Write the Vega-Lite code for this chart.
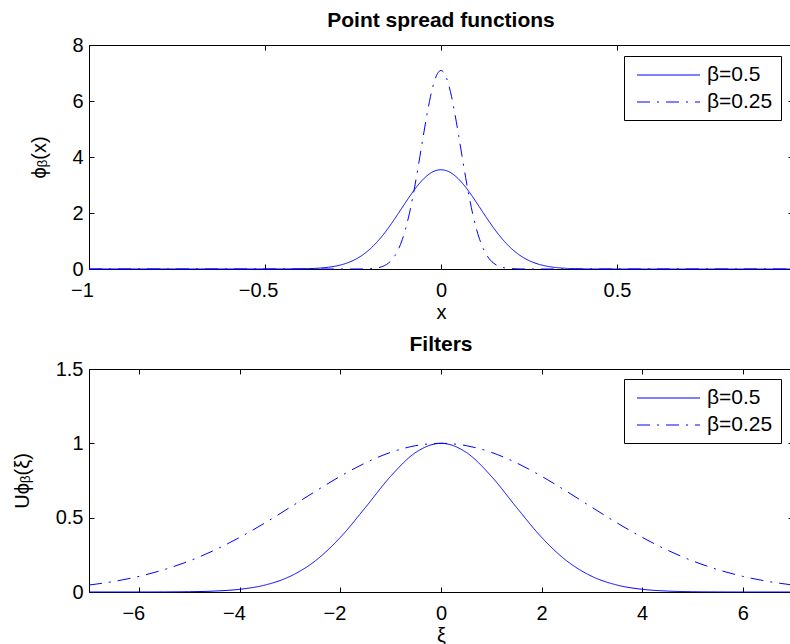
{
  "$schema": "https://vega.github.io/schema/vega-lite/v6.json",
  "autosize": {"type": "pad"},
  "padding": {"left": 11, "top": 9, "right": 0, "bottom": 0},
  "background": "white",
  "config": {
    "font": "Liberation Sans",
    "view": {"stroke": "black", "strokeWidth": 1},
    "axis": {
      "domain": false, "grid": false, "tickColor": "black", "tickSize": -5, "tickWidth": 1,
      "labelFont": "Liberation Sans", "labelFontSize": 20, "labelColor": "black", "labelFlush": false,
      "titleFont": "Liberation Sans", "titleFontSize": 20, "titleFontWeight": "normal", "titleColor": "black"
    },
    "axisBottom": {"labelPadding": 16, "titlePadding": 2},
    "axisLeft": {"labelPadding": 11, "titlePadding": 0},
    "title": {"font": "Liberation Sans", "fontSize": 21, "fontWeight": "bold", "color": "black", "offset": 4},
    "legend": {
      "orient": "none", "title": null, "symbolType": "M-3,0H3", "symbolSize": 441, "symbolStrokeWidth": 1,
      "symbolOffset": 25.5, "labelOffset": 27.5,
      "symbolStrokeColor": "#0000ff", "labelFont": "Liberation Sans", "labelFontSize": 21, "labelColor": "black",
      "strokeColor": "black", "fillColor": "white", "padding": 8, "rowPadding": 6
    }
  },
  "spacing": 100,
  "bounds": "flush",
  "resolve": {"scale": {"x": "independent", "y": "independent", "strokeDash": "independent"}, "legend": {"strokeDash": "independent"}},
  "vconcat": [
    {
      "width": 704, "height": 224,
      "title": {"text": "Point spread functions"},
      "data": {"values": [
        {"x": -1, "y": 0, "b": "β=0.5"}, {"x": -0.5, "y": 0, "b": "β=0.5"}, {"x": -0.45, "y": 0.001, "b": "β=0.5"},
        {"x": -0.40, "y": 0.006, "b": "β=0.5"}, {"x": -0.38, "y": 0.012, "b": "β=0.5"}, {"x": -0.36, "y": 0.021, "b": "β=0.5"},
        {"x": -0.34, "y": 0.037, "b": "β=0.5"}, {"x": -0.32, "y": 0.062, "b": "β=0.5"}, {"x": -0.30, "y": 0.102, "b": "β=0.5"},
        {"x": -0.28, "y": 0.161, "b": "β=0.5"}, {"x": -0.26, "y": 0.246, "b": "β=0.5"}, {"x": -0.24, "y": 0.365, "b": "β=0.5"},
        {"x": -0.22, "y": 0.525, "b": "β=0.5"}, {"x": -0.20, "y": 0.731, "b": "β=0.5"}, {"x": -0.18, "y": 0.987, "b": "β=0.5"},
        {"x": -0.16, "y": 1.290, "b": "β=0.5"}, {"x": -0.14, "y": 1.635, "b": "β=0.5"}, {"x": -0.12, "y": 2.008, "b": "β=0.5"},
        {"x": -0.10, "y": 2.389, "b": "β=0.5"}, {"x": -0.08, "y": 2.754, "b": "β=0.5"}, {"x": -0.06, "y": 3.075, "b": "β=0.5"},
        {"x": -0.04, "y": 3.328, "b": "β=0.5"}, {"x": -0.02, "y": 3.489, "b": "β=0.5"}, {"x": 0, "y": 3.545, "b": "β=0.5"},
        {"x": 0.02, "y": 3.489, "b": "β=0.5"}, {"x": 0.04, "y": 3.328, "b": "β=0.5"}, {"x": 0.06, "y": 3.075, "b": "β=0.5"},
        {"x": 0.08, "y": 2.754, "b": "β=0.5"}, {"x": 0.10, "y": 2.389, "b": "β=0.5"}, {"x": 0.12, "y": 2.008, "b": "β=0.5"},
        {"x": 0.14, "y": 1.635, "b": "β=0.5"}, {"x": 0.16, "y": 1.290, "b": "β=0.5"}, {"x": 0.18, "y": 0.987, "b": "β=0.5"},
        {"x": 0.20, "y": 0.731, "b": "β=0.5"}, {"x": 0.22, "y": 0.525, "b": "β=0.5"}, {"x": 0.24, "y": 0.365, "b": "β=0.5"},
        {"x": 0.26, "y": 0.246, "b": "β=0.5"}, {"x": 0.28, "y": 0.161, "b": "β=0.5"}, {"x": 0.30, "y": 0.102, "b": "β=0.5"},
        {"x": 0.32, "y": 0.062, "b": "β=0.5"}, {"x": 0.34, "y": 0.037, "b": "β=0.5"}, {"x": 0.36, "y": 0.021, "b": "β=0.5"},
        {"x": 0.38, "y": 0.012, "b": "β=0.5"}, {"x": 0.40, "y": 0.006, "b": "β=0.5"}, {"x": 0.45, "y": 0.001, "b": "β=0.5"},
        {"x": 0.5, "y": 0, "b": "β=0.5"}, {"x": 1, "y": 0, "b": "β=0.5"},
        {"x": -1, "y": 0, "b": "β=0.25"}, {"x": -0.25, "y": 0, "b": "β=0.25"}, {"x": -0.225, "y": 0.002, "b": "β=0.25"},
        {"x": -0.20, "y": 0.013, "b": "β=0.25"}, {"x": -0.19, "y": 0.024, "b": "β=0.25"}, {"x": -0.18, "y": 0.043, "b": "β=0.25"},
        {"x": -0.17, "y": 0.074, "b": "β=0.25"}, {"x": -0.16, "y": 0.124, "b": "β=0.25"}, {"x": -0.15, "y": 0.203, "b": "β=0.25"},
        {"x": -0.14, "y": 0.321, "b": "β=0.25"}, {"x": -0.13, "y": 0.492, "b": "β=0.25"}, {"x": -0.12, "y": 0.730, "b": "β=0.25"},
        {"x": -0.11, "y": 1.049, "b": "β=0.25"}, {"x": -0.10, "y": 1.462, "b": "β=0.25"}, {"x": -0.09, "y": 1.973, "b": "β=0.25"},
        {"x": -0.08, "y": 2.581, "b": "β=0.25"}, {"x": -0.07, "y": 3.270, "b": "β=0.25"}, {"x": -0.06, "y": 4.015, "b": "β=0.25"},
        {"x": -0.05, "y": 4.777, "b": "β=0.25"}, {"x": -0.04, "y": 5.507, "b": "β=0.25"}, {"x": -0.03, "y": 6.151, "b": "β=0.25"},
        {"x": -0.02, "y": 6.656, "b": "β=0.25"}, {"x": -0.01, "y": 6.979, "b": "β=0.25"}, {"x": 0, "y": 7.090, "b": "β=0.25"},
        {"x": 0.01, "y": 6.979, "b": "β=0.25"}, {"x": 0.02, "y": 6.656, "b": "β=0.25"}, {"x": 0.03, "y": 6.151, "b": "β=0.25"},
        {"x": 0.04, "y": 5.507, "b": "β=0.25"}, {"x": 0.05, "y": 4.777, "b": "β=0.25"}, {"x": 0.06, "y": 4.015, "b": "β=0.25"},
        {"x": 0.07, "y": 3.270, "b": "β=0.25"}, {"x": 0.08, "y": 2.581, "b": "β=0.25"}, {"x": 0.09, "y": 1.973, "b": "β=0.25"},
        {"x": 0.10, "y": 1.462, "b": "β=0.25"}, {"x": 0.11, "y": 1.049, "b": "β=0.25"}, {"x": 0.12, "y": 0.730, "b": "β=0.25"},
        {"x": 0.13, "y": 0.492, "b": "β=0.25"}, {"x": 0.14, "y": 0.321, "b": "β=0.25"}, {"x": 0.15, "y": 0.203, "b": "β=0.25"},
        {"x": 0.16, "y": 0.124, "b": "β=0.25"}, {"x": 0.17, "y": 0.074, "b": "β=0.25"}, {"x": 0.18, "y": 0.043, "b": "β=0.25"},
        {"x": 0.19, "y": 0.024, "b": "β=0.25"}, {"x": 0.20, "y": 0.013, "b": "β=0.25"}, {"x": 0.225, "y": 0.002, "b": "β=0.25"},
        {"x": 0.25, "y": 0, "b": "β=0.25"}, {"x": 1, "y": 0, "b": "β=0.25"}
      ]},
      "layer": [
        {
          "mark": {"type": "line", "color": "#0000ff", "strokeWidth": 1, "interpolate": "monotone"},
          "encoding": {
            "x": {"field": "x", "type": "quantitative", "scale": {"domain": [-1, 1], "nice": false},
                  "axis": {"orient": "bottom", "values": [-1, -0.5, 0, 0.5], "format": "~g", "title": "x",
                           "labelOffset": {"condition": {"test": "datum.value < 0", "value": -7}, "value": 0}}},
            "y": {"field": "y", "type": "quantitative", "scale": {"domain": [0, 8], "nice": false},
                  "axis": {"orient": "left", "values": [0, 2, 4, 6, 8], "format": "~g", "title": "ϕᵦ(x)", "minExtent": 40, "maxExtent": 40}},
            "strokeDash": {"field": "b", "type": "nominal",
                  "scale": {"domain": ["β=0.5", "β=0.25"], "range": [[1, 0], [13, 7, 2, 7]]},
                  "legend": {"legendX": 535, "legendY": 11}}
          }
        },
        {
          "mark": {"type": "line", "strokeOpacity": 0},
          "encoding": {
            "x": {"field": "x", "type": "quantitative", "axis": {"orient": "top", "values": [-1, -0.5, 0, 0.5, 1], "labels": false, "title": null}},
            "y": {"field": "y", "type": "quantitative", "axis": {"orient": "right", "values": [0, 2, 4, 6, 8], "labels": false, "title": null}},
            "detail": {"field": "b"}
          }
        }
      ],
      "resolve": {"axis": {"x": "independent", "y": "independent"}}
    },
    {
      "width": 704, "height": 223,
      "title": {"text": "Filters"},
      "data": {"values": [
        {"x": -7, "y": 0, "b": "β=0.5"}, {"x": -6.5, "y": 0.00003, "b": "β=0.5"}, {"x": -6, "y": 0.00012, "b": "β=0.5"},
        {"x": -5.5, "y": 0.00052, "b": "β=0.5"}, {"x": -5, "y": 0.00193, "b": "β=0.5"}, {"x": -4.5, "y": 0.00633, "b": "β=0.5"},
        {"x": -4, "y": 0.01832, "b": "β=0.5"}, {"x": -3.5, "y": 0.04677, "b": "β=0.5"}, {"x": -3, "y": 0.10540, "b": "β=0.5"},
        {"x": -2.5, "y": 0.20961, "b": "β=0.5"}, {"x": -2, "y": 0.36788, "b": "β=0.5"}, {"x": -1.5, "y": 0.56978, "b": "β=0.5"},
        {"x": -1, "y": 0.77880, "b": "β=0.5"}, {"x": -0.5, "y": 0.93941, "b": "β=0.5"}, {"x": 0, "y": 1, "b": "β=0.5"},
        {"x": 0.5, "y": 0.93941, "b": "β=0.5"}, {"x": 1, "y": 0.77880, "b": "β=0.5"}, {"x": 1.5, "y": 0.56978, "b": "β=0.5"},
        {"x": 2, "y": 0.36788, "b": "β=0.5"}, {"x": 2.5, "y": 0.20961, "b": "β=0.5"}, {"x": 3, "y": 0.10540, "b": "β=0.5"},
        {"x": 3.5, "y": 0.04677, "b": "β=0.5"}, {"x": 4, "y": 0.01832, "b": "β=0.5"}, {"x": 4.5, "y": 0.00633, "b": "β=0.5"},
        {"x": 5, "y": 0.00193, "b": "β=0.5"}, {"x": 5.5, "y": 0.00052, "b": "β=0.5"}, {"x": 6, "y": 0.00012, "b": "β=0.5"},
        {"x": 6.5, "y": 0.00003, "b": "β=0.5"}, {"x": 7, "y": 0, "b": "β=0.5"},
        {"x": -7, "y": 0.04677, "b": "β=0.25"}, {"x": -6.5, "y": 0.07131, "b": "β=0.25"}, {"x": -6, "y": 0.10540, "b": "β=0.25"},
        {"x": -5.5, "y": 0.15096, "b": "β=0.25"}, {"x": -5, "y": 0.20961, "b": "β=0.25"}, {"x": -4.5, "y": 0.28206, "b": "β=0.25"},
        {"x": -4, "y": 0.36788, "b": "β=0.25"}, {"x": -3.5, "y": 0.46506, "b": "β=0.25"}, {"x": -3, "y": 0.56978, "b": "β=0.25"},
        {"x": -2.5, "y": 0.67663, "b": "β=0.25"}, {"x": -2, "y": 0.77880, "b": "β=0.25"}, {"x": -1.5, "y": 0.86882, "b": "β=0.25"},
        {"x": -1, "y": 0.93941, "b": "β=0.25"}, {"x": -0.5, "y": 0.98450, "b": "β=0.25"}, {"x": 0, "y": 1, "b": "β=0.25"},
        {"x": 0.5, "y": 0.98450, "b": "β=0.25"}, {"x": 1, "y": 0.93941, "b": "β=0.25"}, {"x": 1.5, "y": 0.86882, "b": "β=0.25"},
        {"x": 2, "y": 0.77880, "b": "β=0.25"}, {"x": 2.5, "y": 0.67663, "b": "β=0.25"}, {"x": 3, "y": 0.56978, "b": "β=0.25"},
        {"x": 3.5, "y": 0.46506, "b": "β=0.25"}, {"x": 4, "y": 0.36788, "b": "β=0.25"}, {"x": 4.5, "y": 0.28206, "b": "β=0.25"},
        {"x": 5, "y": 0.20961, "b": "β=0.25"}, {"x": 5.5, "y": 0.15096, "b": "β=0.25"}, {"x": 6, "y": 0.10540, "b": "β=0.25"},
        {"x": 6.5, "y": 0.07131, "b": "β=0.25"}, {"x": 7, "y": 0.04677, "b": "β=0.25"}
      ]},
      "layer": [
        {
          "mark": {"type": "line", "color": "#0000ff", "strokeWidth": 1, "interpolate": "monotone"},
          "encoding": {
            "x": {"field": "x", "type": "quantitative", "scale": {"domain": [-7, 7], "nice": false},
                  "axis": {"orient": "bottom", "values": [-6, -4, -2, 0, 2, 4, 6], "format": "~g", "title": "ξ",
                           "labelOffset": {"condition": {"test": "datum.value < 0", "value": -6}, "value": 0}}},
            "y": {"field": "y", "type": "quantitative", "scale": {"domain": [0, 1.5], "nice": false},
                  "axis": {"orient": "left", "values": [0, 0.5, 1, 1.5], "format": "~g", "title": "Uϕᵦ(ξ)", "minExtent": 57, "maxExtent": 57}},
            "strokeDash": {"field": "b", "type": "nominal",
                  "scale": {"domain": ["β=0.5", "β=0.25"], "range": [[1, 0], [13, 7, 2, 7]]},
                  "legend": {"legendX": 535, "legendY": 10}}
          }
        },
        {
          "mark": {"type": "line", "strokeOpacity": 0},
          "encoding": {
            "x": {"field": "x", "type": "quantitative", "axis": {"orient": "top", "values": [-6, -4, -2, 0, 2, 4, 6], "labels": false, "title": null}},
            "y": {"field": "y", "type": "quantitative", "axis": {"orient": "right", "values": [0, 0.5, 1, 1.5], "labels": false, "title": null}},
            "detail": {"field": "b"}
          }
        }
      ],
      "resolve": {"axis": {"x": "independent", "y": "independent"}}
    }
  ]
}
